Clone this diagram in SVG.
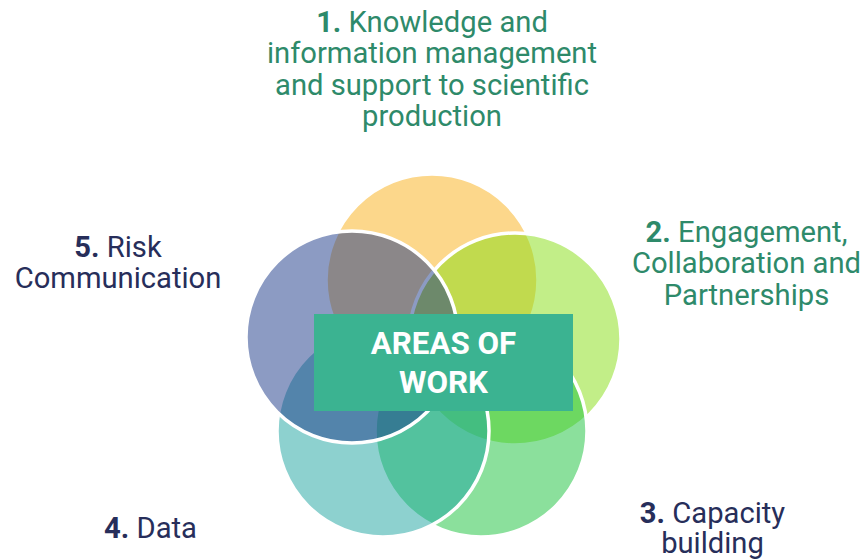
<svg xmlns="http://www.w3.org/2000/svg" width="863" height="559" viewBox="0 0 863 559">
  <style>
    .c { fill-opacity: 0.5; stroke: #ffffff; stroke-width: 3.5; }
    .lbl { font-family: Roboto, "Liberation Sans", sans-serif; font-size: 29.2px; text-anchor: middle; }
    .g { fill: #2E8A6A; }
    .n { fill: #272E5A; }
    .b { font-weight: bold; }
    .ctr { font-family: Roboto, "Liberation Sans", sans-serif; font-size: 31.3px; font-weight: bold; fill: #ffffff; text-anchor: middle; }
  </style>
  <rect width="863" height="559" fill="#ffffff"/>

  <g id="area1">
    <circle class="c" cx="432" cy="280" r="106" fill="#F9AF17"/>
    <text class="lbl g" x="432" y="31.5"><tspan class="b">1.</tspan> Knowledge and</text>
    <text class="lbl g" x="432" y="63">information management</text>
    <text class="lbl g" x="432" y="94.5">and support to scientific</text>
    <text class="lbl g" x="432" y="126">production</text>
  </g>

  <g id="area2">
    <circle class="c" cx="515" cy="339" r="106" fill="#85DD11"/>
    <text class="lbl g" x="746.5" y="241.5"><tspan class="b">2.</tspan> Engagement,</text>
    <text class="lbl g" x="746.5" y="273">Collaboration and</text>
    <text class="lbl g" x="746.5" y="304.5">Partnerships</text>
  </g>

  <g id="area3">
    <circle class="c" cx="481" cy="431" r="106" fill="#17C139"/>
    <text class="lbl n" x="712.5" y="522.5"><tspan class="b">3.</tspan> Capacity</text>
    <text class="lbl n" x="712.5" y="553">building</text>
  </g>

  <g id="area4">
    <circle class="c" cx="383" cy="431" r="106" fill="#1BA39F"/>
    <text class="lbl n" x="150.5" y="537.5"><tspan class="b">4.</tspan> Data</text>
  </g>

  <g id="area5">
    <circle class="c" cx="352" cy="337" r="106" fill="#193787"/>
    <text class="lbl n" x="118" y="256.5"><tspan class="b">5.</tspan> Risk</text>
    <text class="lbl n" x="118" y="288">Communication</text>
  </g>

  <g id="center">
    <rect x="314" y="314" width="259" height="97" fill="#3BB391"/>
    <text class="ctr" x="443.5" y="353.5">AREAS OF</text>
    <text class="ctr" x="443.5" y="392.5">WORK</text>
  </g>
</svg>
